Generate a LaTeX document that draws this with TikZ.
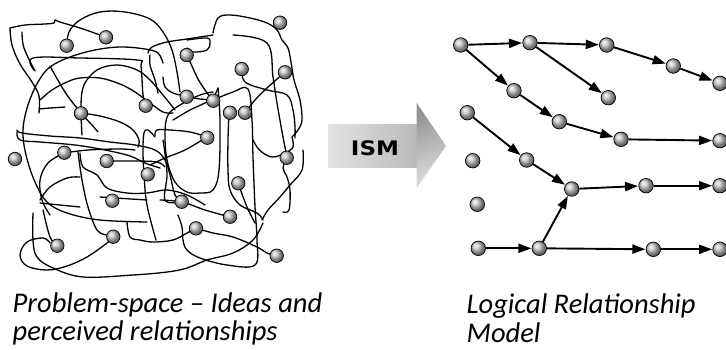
\documentclass[tikz,border=0pt]{standalone}
\usepackage{fontspec}
\setmainfont{Carlito}
\newfontfamily\isfont{DejaVu Sans}
\usetikzlibrary{arrows.meta}
\tikzset{
  scribble/.style={black, line width=1.3pt, line cap=round, line join=round},
  idea/.style={circle, draw=black, line width=0.7pt, shading=ball, ball color=gray!45,
               minimum size=13.5pt, inner sep=0pt},
  lnode/.style={idea, minimum size=14.5pt},
  link/.style={black, line width=1.9pt, -{Triangle[length=13pt, width=9pt]}, shorten >=0.3pt},
  caption/.style={font=\fontsize{28.5}{30}\selectfont\itshape, anchor=base west, inner sep=0pt}
}
% one hand-drawn stroke through the given points
\newcommand\scrib[1]{\draw[scribble] plot[smooth, tension=0.6] coordinates {#1};}
\begin{document}
\begin{tikzpicture}[x=1pt, y=-1pt]
\useasboundingbox (0,0) rectangle (726,349);

% ---- tangled problem space ----
\scrib{(22,32) (24,48) (35,71)}
\scrib{(10,28) (25,25) (45,24) (54,23) (55,20) (60,22) (80,28) (100,35)}
\scrib{(10,28) (12,45) (20,64) (32,82) (39,96) (39,113)}
\scrib{(39,109) (50,108) (65,107)}
\scrib{(67,46) (69,32) (80,20) (100,12) (125,12) (150,19) (163,32) (172,50) (177,72) (180,92)}
\scrib{(34,70) (33,58) (80,58) (137,60) (141,66) (143,95) (146,104)}
\scrib{(163,63) (158,53) (145,49) (120,47) (95,50) (70,57) (50,67) (38,82) (28,105) (23,130) (26,155) (35,182) (47,202) (67,213) (100,220) (147,222)}
\scrib{(50,66) (65,92) (81,113) (92,125) (98,132)}
\scrib{(40,100) (52,90) (67,82) (80,78) (100,78) (120,84) (135,92) (150,103) (163,112) (173,113)}
\scrib{(82,135) (81,105) (84,85) (97,70) (117,65) (137,70) (150,80) (163,95) (175,110)}
\scrib{(81,113) (100,116) (120,122) (133,130) (139,140) (138,147)}
\scrib{(17,130) (22,133) (50,136) (80,138) (110,142) (135,145) (155,150) (165,160) (170,175) (175,195) (182,202)}
\scrib{(17,132) (20,140) (40,142) (75,145) (105,150) (130,156) (145,163) (160,168)}
\scrib{(207,137) (190,132) (170,130) (157,130) (155,136)}
\scrib{(155,137) (148,130) (144,133) (143,150) (144,175) (147,205) (156,240)}
\scrib{(213,92) (200,95) (180,105) (168,115) (165,133) (167,160) (175,182) (187,192) (200,193) (213,190) (219,170) (220,120) (218,88)}
\scrib{(207,137) (185,150) (165,158) (150,165)}
\scrib{(107,161) (135,161) (157,162) (165,167)}
\scrib{(64,153) (88,150) (120,149) (135,150)}
\scrib{(64,153) (48,163) (40,180) (42,200) (50,215)}
\scrib{(78,152) (82,180) (88,207) (97,230) (107,235)}
\scrib{(80,153) (83,167) (97,175) (107,188) (127,193) (147,193) (167,190) (187,195) (205,205)}
\scrib{(100,197) (147,200)}
\scrib{(40,203) (80,207)}
\scrib{(50,243) (43,238) (27,242) (20,255) (27,266) (47,270) (67,266) (87,257) (107,243) (113,237)}
\scrib{(33,213) (33,240) (37,257) (53,268) (83,277) (133,275) (167,272) (187,268) (207,260) (233,253) (253,240) (263,223)}
\scrib{(43,210) (50,237) (57,245)}
\scrib{(40,200) (50,187) (67,178) (80,177)}
\scrib{(127,222) (130,237) (140,240) (153,242) (173,240) (187,233) (196,228)}
\scrib{(178,215) (182,227) (183,240) (187,250) (200,258) (227,265) (255,265) (257,240) (255,207) (253,157) (252,120) (248,89) (233,92) (213,100)}
\scrib{(160,200) (182,202) (205,210) (230,217)}
\scrib{(163,140) (167,173) (165,200) (180,202)}
\scrib{(196,228) (213,233) (233,237) (257,247) (267,253) (277,256)}
\scrib{(238,183) (247,207) (255,223)}
\scrib{(229,113) (228,140) (228,170) (230,190) (240,205) (257,213) (263,220)}
\scrib{(303,150) (302,170) (290,185) (280,197) (268,210) (262,220)}
\scrib{(287,158) (283,168) (287,177) (290,190) (289,210) (283,212)}
\scrib{(213,33) (218,18) (230,15) (250,18) (267,23) (277,30) (282,40) (288,48) (291,62) (294,80) (300,100) (302,120) (298,130) (292,137)}
\scrib{(292,137) (293,147) (285,153) (273,157) (263,153) (257,147) (253,140)}
\scrib{(233,35) (267,43) (273,77) (277,103) (283,137) (287,157)}
\scrib{(242,69) (245,82) (267,90) (287,95) (293,110) (295,127) (295,138)}
\scrib{(285,72) (267,88) (255,100) (245,113)}
\scrib{(187,97) (200,99) (213,100)}
\scrib{(148,53) (152,47) (167,42) (187,39) (213,35)}
\scrib{(187,40) (207,38) (210,43) (207,50) (193,52) (187,48)}
\scrib{(150,55) (150,65) (155,80) (158,93)}
\scrib{(163,77) (165,87) (173,93) (185,96)}
\scrib{(187,55) (197,77) (203,87) (210,97)}
\scrib{(173,120) (190,110) (205,103) (213,98) (218,88)}

% ideas scattered over the problem space
\foreach \n/\x/\y in {
  1/280/22.7, 2/106/37.3, 3/66.7/45.7, 4/186.7/55, 5/241.7/69, 6/285/72.3,
  7/186.7/96.7, 8/213.3/100.7, 9/145.7/105.7, 10/81/113.3, 11/230/112.7,
  12/245/112.7, 13/207.3/137.7, 14/15/159, 15/64.3/152.7, 16/106.7/161,
  17/147.7/174.3, 18/286.7/157.7, 19/238.3/183.3, 20/112.3/200.7,
  21/181.7/201.7, 22/230/216.7, 23/196/228.3, 24/113.3/236.7, 25/57.3/245.7,
  26/276.7/255.7}{
  \node[idea] (i\n) at (\x,\y) {};
}

% ---- ISM block arrow ----
\shade[left color=gray!22, right color=gray!55] (328.3,124) rectangle (417,167);
\shade[top color=gray!85, bottom color=gray!25, shading angle=20]
  (416.7,103) -- (446,146) -- (416.7,188) -- cycle;
\node[font=\isfont\bfseries\fontsize{20}{20}\selectfont, inner sep=0pt]
  (ism) at (375,148) {\scalebox{1.15}[1]{ISM}};

% ---- logical relationship model ----
\node[lnode] (a) at (460.7,45) {};
\node[lnode] (b) at (530,42.7) {};
\node[lnode] (c) at (606.7,45) {};
\node[lnode] (d) at (673.3,66) {};
\node[lnode] (e) at (720,83.3) {};
\node[lnode] (f) at (608.3,97.7) {};
\node[lnode] (g) at (514,90.7) {};
\node[lnode] (h) at (559.3,121.7) {};
\node[lnode] (i) at (621,139.3) {};
\node[lnode] (j) at (720,140.7) {};
\node[lnode] (k) at (467.3,112.7) {};
\node[lnode] (l) at (526.7,160) {};
\node[lnode] (m) at (571.7,189) {};
\node[lnode] (n) at (646,185.7) {};
\node[lnode] (o) at (720,185.7) {};
\node[lnode] (p) at (472.7,160.7) {};
\node[lnode] (q) at (477.3,204.3) {};
\node[lnode] (r) at (478.3,248.3) {};
\node[lnode] (s) at (539.3,248.3) {};
\node[lnode] (t) at (653.3,249.3) {};
\node[lnode] (u) at (720,249.3) {};

\foreach \u/\v in {a/b, b/c, c/d, d/e, a/g, b/f, g/h, h/i, i/j,
                   k/l, l/m, m/n, n/o, r/s, s/m, s/t, t/u}{
  \draw[link] (\u) -- (\v);
}

% ---- captions ----
\node[caption] (cap1) at (12.5,312.3) {Problem-space – Ideas and};
\node[caption] (cap2) at (12.5,340) {perceived relationships};
\node[caption] (cap3) at (466.5,313.5) {Logical Relationship};
\node[caption] (cap4) at (466.5,342) {Model};
\end{tikzpicture}
\end{document}
